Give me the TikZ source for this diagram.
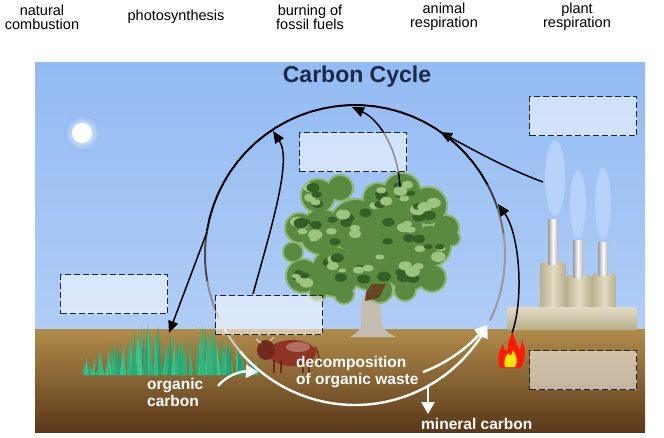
\documentclass[tikz,border=0pt]{standalone}
\usepackage{fontspec}
\setmainfont{Liberation Sans}
\usetikzlibrary{arrows.meta}
\definecolor{skytop}{HTML}{93BBF3}
\definecolor{skybot}{HTML}{B0CDF6}
\definecolor{soiltop}{HTML}{B08C4B}
\definecolor{soilbot}{HTML}{5A3819}
\definecolor{leafdark}{HTML}{345F26}
\definecolor{leafmid}{HTML}{5A8A40}
\definecolor{leaflight}{HTML}{9CC47E}
\definecolor{grassgreen}{HTML}{1E9E68}
\definecolor{grasslight}{HTML}{45C48E}
\definecolor{bark}{HTML}{C4BCAF}
\definecolor{cowbrown}{HTML}{8F3324}
\definecolor{plant}{HTML}{E2DCC4}
\definecolor{plantdark}{HTML}{B8AE8B}
\definecolor{smoke}{HTML}{B7D2F8}
\definecolor{titleblue}{HTML}{1B2A45}
\definecolor{boxline}{HTML}{1F2633}

\begin{document}
\begin{tikzpicture}[x=1pt, y=-1pt,
  blank/.style={draw=boxline, dash pattern=on 6pt off 3pt, line width=1.3pt, fill=white, fill opacity=0.55, minimum width=107pt, minimum height=39pt, inner sep=0pt},
  flow/.style={black, line width=1.5pt, -{Triangle[length=12pt, width=10pt]}},
  wflow/.style={white, line width=2.4pt, -{Triangle[length=12pt, width=13pt]}},
  toplabel/.style={font=\fontsize{14.5}{14}\selectfont, align=center},
  soillabel/.style={text=white, font=\fontsize{15.5}{17}\selectfont\bfseries, align=left, inner sep=0pt, anchor=west}]
\useasboundingbox (0,0) rectangle (664,437);
% sky and soil
\shade[top color=skytop, bottom color=skybot] (35,62) rectangle (645,329);
\shade[top color=soiltop, bottom color=soilbot] (35,329) rectangle (645,432);
% sun
\shade[inner color=white, outer color=skytop] (82,133) circle[radius=18];
\fill[white] (82,133) circle[radius=10];
% factory
\foreach \x/\w/\t in {540/26/262, 566/26/275, 592/24/273}
  \shade[left color=plantdark, right color=plantdark, middle color=plant, rounded corners=4pt] (\x,312) rectangle (\x+\w,\t);
\shade[top color=plant, bottom color=plantdark, rounded corners=2pt] (507,307) rectangle (637,330);
\foreach \x/\t/\b in {548/219/264, 573/240/277, 598/242/275}
  \shade[left color=gray!80, right color=gray!60, middle color=white] (\x,\t) rectangle (\x+10,\b);
\fill[smoke] (555,178) ellipse[x radius=10, y radius=38];
\fill[smoke] (578,204) ellipse[x radius=8, y radius=34];
\fill[smoke] (603,204) ellipse[x radius=8, y radius=36];
% tree
\fill[bark] (362,296) -- (380,296) -- (382,325) .. controls (385,332) and (392,335) .. (396,337) -- (350,337) .. controls (356,334) and (360,330) .. (361,325) -- cycle;
\foreach \x/\y/\r in {318/196/16, 340/188/12, 378/198/14, 402/192/18, 428/206/18, 446/228/12, 452/238/7, 300/228/14, 293/252/9, 322/232/22, 356/226/26, 396/226/26, 430/246/20, 303/276/16, 336/272/24, 372/264/26, 408/268/22, 432/278/13, 318/292/8, 344/294/9, 380/290/12, 405/290/10}
  \fill[leaflight!80!leafmid] (\x,\y) circle[radius=\r+2];
\foreach \x/\y/\r in {318/196/16, 340/188/12, 378/198/14, 402/192/18, 428/206/18, 446/228/12, 452/238/7, 300/228/14, 293/252/9, 322/232/22, 356/226/26, 396/226/26, 430/246/20, 303/276/16, 336/272/24, 372/264/26, 408/268/22, 432/278/13, 318/292/8, 344/294/9, 380/290/12, 405/290/10}
  \fill[leafmid] (\x,\y) circle[radius=\r];
\pgfmathsetseed{5}
\foreach \x/\y/\r in {318/196/16, 378/198/14, 402/192/18, 428/206/18, 300/228/14, 322/232/22, 356/226/26, 396/226/26, 430/246/20, 303/276/16, 336/272/24, 372/264/26, 408/268/22}
  \foreach \k in {1,2,3} {
    \pgfmathsetmacro\px{\x+1.2*\r*rnd-0.6*\r}
    \pgfmathsetmacro\py{\y+1.2*\r*rnd-0.6*\r}
    \pgfmathsetmacro\qx{\x+1.2*\r*rnd-0.6*\r}
    \pgfmathsetmacro\qy{\y+1.2*\r*rnd-0.6*\r}
    \pgfmathsetmacro\pr{2+3.5*rnd}
    \pgfmathsetmacro\qr{2+3.5*rnd}
    \fill[leafdark] (\px,\py) ellipse[x radius=\pr+2, y radius=\pr];
    \fill[leaflight] (\qx,\qy) ellipse[x radius=\qr+2, y radius=\qr];
  }
\fill[brown!55!black] (366,292) -- (372,284) -- (386,284) -- (379,298) -- (365,301) -- cycle;
% grass
\pgfmathsetseed{11}
\foreach \cx/\top in {92/355, 105/348, 118/340, 131/330, 144/322, 157/325, 170/333, 183/338, 196/335, 209/322, 222/330, 236/345, 250/358}
  \foreach \k in {1,...,8} {
    \pgfmathsetmacro\bx{\cx+14*rnd-7}
    \pgfmathsetmacro\bt{\top+16*rnd}
    \pgfmathsetmacro\lean{6*rnd-3}
    \pgfmathsetmacro\mix{int(100*rnd)}
    \fill[grassgreen!\mix!grasslight] (\bx-2.2,375) -- (\bx+\lean,\bt) -- (\bx+2.2,375) -- cycle;
  }
% cow
\fill[cowbrown] (292,353) ellipse[x radius=24, y radius=13];
\fill[cowbrown!80!black] (266,350) ellipse[x radius=9, y radius=10];
\fill[cowbrown!70!white] (298,347) ellipse[x radius=12, y radius=5];
\foreach \lx in {274,281,303,309}
  \draw[cowbrown!80!black, line width=2.5pt] (\lx,360) -- (\lx,373);
\draw[cowbrown!60!black, line width=1pt] (315,347) .. controls (319,352) and (319,360) .. (320,367);
\draw[white!80!gray, line width=1pt] (261,343) -- (256,339);
\draw[white!80!gray, line width=1pt] (270,341) -- (274,337);
% fire
\fill[red!80!orange] (500,368) .. controls (496,358) and (500,350) .. (503,344) .. controls (504,350) and (506,352) .. (508,350) .. controls (507,342) and (510,337) .. (513,332) .. controls (514,340) and (518,345) .. (519,350) .. controls (521,347) and (522,343) .. (522,340) .. controls (527,350) and (525,362) .. (520,368) -- cycle;
\fill[yellow!90!orange] (505,367) .. controls (503,360) and (506,356) .. (508,353) .. controls (510,357) and (512,356) .. (513,350) .. controls (517,356) and (518,362) .. (515,367) -- cycle;
% the cycle
\foreach \sa/\ea/\col in {189/332/black, 332/342/black!75, 342/352/black!55, 352/386/black!40, 170/189/black!70, 155/170/black!45, 140/155/black!20}
  \draw[\col, line width=2pt] plot[domain=\sa:\ea, samples=30] ({355+150*cos(\x)}, {255+150*sin(\x)});
\draw[wflow] plot[domain=140:28, samples=60] ({355+150*cos(\x)}, {255+150*sin(\x)});
\coordinate (ringcow) at (273,131);
\coordinate (ringtree) at (352,107);
\coordinate (ringsmoke) at (440,132);
\coordinate (ringfire) at (498,204);
\coordinate (ringgrass) at (207,232);
\coordinate (ringwhite) at (487,325);
\coordinate (ringbottom) at (428,387);
\coordinate (cowtop) at (253,294);
\coordinate (treetop) at (400,187);
\coordinate (smokeedge) at (543,182);
\coordinate (firetop) at (512,333);
\coordinate (grasstop) at (169,333);
\coordinate (orgtail) at (218,386);
\coordinate (orghead) at (258,372);
\coordinate (decomptail) at (423,372);
\coordinate (mineraltop) at (428,414);
\draw[flow] (cowtop) .. controls (272,225) and (292,160) .. (ringcow);
\draw[flow] (treetop) .. controls (398,150) and (380,120) .. (ringtree);
\draw[flow] (smokeedge) .. controls (505,168) and (470,148) .. (ringsmoke);
\draw[flow] (firetop) .. controls (524,300) and (520,235) .. (ringfire);
\draw[flow] (ringgrass) -- (grasstop);
\draw[wflow] (orgtail) .. controls (226,376) and (240,371) .. (orghead);
\draw[wflow] (decomptail) .. controls (450,362) and (470,345) .. (ringwhite);
\draw[wflow] (ringbottom) -- (mineraltop);
% blanks
\node[blank] (treebox) at (353,152) {};
\node[blank] (smokebox) at (583,116) {};
\node[blank] (grassbox) at (114,294) {};
\node[blank] (cowbox) at (269,315) {};
\node[blank] (firebox) at (583,370) {};
% texts
\node[font=\fontsize{23}{24}\selectfont\bfseries, text=titleblue] (title) at (357,77) {Carbon Cycle};
\node[soillabel] (orgcarbon) at (147,392) {organic\\carbon};
\node[soillabel] (decomp) at (296,372) {decomposition\\of organic waste};
\node[soillabel] (mineral) at (421,424) {mineral carbon};
\node[toplabel] (natural) at (42,17) {natural\\combustion};
\node[toplabel] (photo) at (176,17) {photosynthesis};
\node[toplabel] (fossil) at (310,17) {burning of\\fossil fuels};
\node[toplabel] (animal) at (444,17) {animal\\respiration};
\node[toplabel] (plantresp) at (577,17) {plant\\respiration};
\end{tikzpicture}
\end{document}
